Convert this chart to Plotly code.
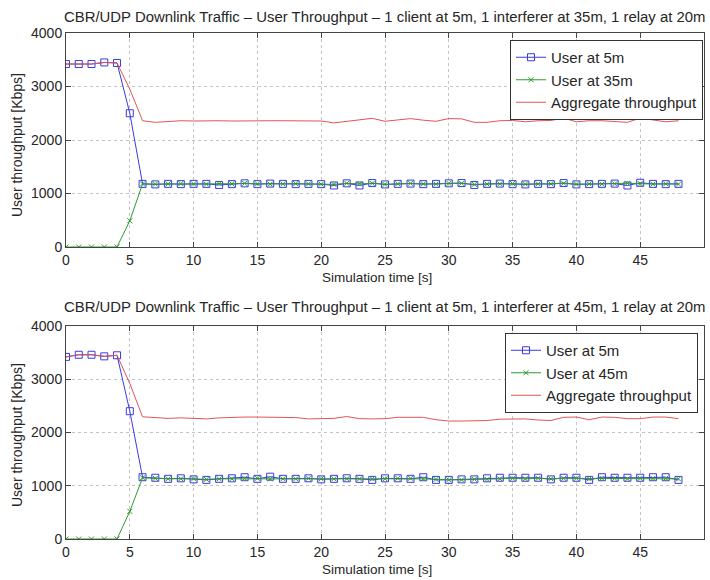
import plotly.graph_objects as go

time_s = list(range(49))

top_user5 = [3420, 3420, 3420, 3450, 3440, 2500, 1180, 1170, 1180, 1175,
             1180, 1180, 1160, 1175, 1190, 1175, 1185, 1180, 1175, 1180,
             1175, 1150, 1190, 1150, 1195, 1170, 1180, 1185, 1175, 1180,
             1190, 1195, 1160, 1180, 1185, 1175, 1170, 1180, 1175, 1195,
             1170, 1175, 1180, 1185, 1150, 1200, 1180, 1175, 1180]
top_user35 = [0, 0, 0, 0, 0, 490, 1180, 1175, 1180, 1185,
              1180, 1175, 1185, 1180, 1190, 1180, 1175, 1180, 1185, 1180,
              1175, 1170, 1190, 1180, 1190, 1170, 1180, 1190, 1180, 1175,
              1190, 1190, 1170, 1175, 1180, 1185, 1175, 1180, 1180, 1190,
              1175, 1180, 1175, 1180, 1190, 1185, 1175, 1180, 1175]
top_aggregate = [3420, 3420, 3420, 3450, 3440, 2950, 2360, 2330, 2345, 2360,
                 2355, 2360, 2360, 2355, 2360, 2360, 2360, 2360, 2360, 2360,
                 2355, 2320, 2350, 2370, 2405, 2350, 2375, 2400, 2370, 2350,
                 2400, 2395, 2330, 2330, 2360, 2365, 2340, 2360, 2365, 2410,
                 2340, 2360, 2360, 2345, 2330, 2410, 2370, 2340, 2360]

bot_user5 = [3420, 3460, 3460, 3430, 3450, 2400, 1160, 1150, 1130, 1140,
             1120, 1110, 1130, 1140, 1160, 1130, 1170, 1130, 1130, 1140,
             1120, 1130, 1140, 1130, 1110, 1140, 1140, 1130, 1160, 1110,
             1110, 1120, 1120, 1140, 1150, 1150, 1150, 1150, 1120, 1150,
             1150, 1110, 1160, 1150, 1150, 1150, 1160, 1160, 1110]
bot_user45 = [0, 0, 0, 0, 0, 520, 1150, 1140, 1130, 1130,
              1130, 1120, 1130, 1130, 1140, 1140, 1130, 1130, 1130, 1140,
              1130, 1130, 1130, 1130, 1130, 1130, 1140, 1140, 1130, 1120,
              1110, 1110, 1120, 1120, 1130, 1140, 1130, 1140, 1130, 1140,
              1140, 1130, 1140, 1140, 1130, 1140, 1140, 1140, 1130]
bot_aggregate = [3420, 3460, 3460, 3430, 3450, 2920, 2295, 2280, 2265, 2275,
                 2260, 2255, 2275, 2285, 2290, 2290, 2290, 2285, 2280, 2255,
                 2255, 2265, 2300, 2260, 2255, 2260, 2285, 2290, 2285, 2240,
                 2215, 2215, 2215, 2225, 2250, 2255, 2255, 2235, 2225, 2285,
                 2290, 2240, 2290, 2285, 2260, 2260, 2290, 2290, 2260]

titles = ["CBR/UDP Downlink Traffic \u2013 User Throughput \u2013 1 client at 5m, 1 interferer at 35m, 1 relay at 20m",
          "CBR/UDP Downlink Traffic \u2013 User Throughput \u2013 1 client at 5m, 1 interferer at 45m, 1 relay at 20m"]
x_ticks = [0, 5, 10, 15, 20, 25, 30, 35, 40, 45, 50]
y_ticks = [0, 1000, 2000, 3000, 4000]

BLUE = "#3a3ae2"
GREEN = "#2f9a2f"
RED = "#e05555"
TXT = "#262626"
FONT = "Liberation Sans, Arial, sans-serif"
W, H = 710.0, 580.0
ML, MR = 66, 6
PW = W - ML - MR

fig = go.Figure()

panels = [
    (top_user5, top_user35, top_aggregate, "User at 35m", "x", "y", "legend"),
    (bot_user5, bot_user45, bot_aggregate, "User at 45m", "x2", "y2", "legend2"),
]
for u5, uf, agg, far_name, xa, ya, lg in panels:
    fig.add_trace(go.Scatter(x=time_s, y=u5, name="User at 5m", mode="lines+markers",
                             line=dict(color=BLUE, width=1),
                             marker=dict(symbol="square-open", size=7, color=BLUE, line=dict(width=1)),
                             xaxis=xa, yaxis=ya, legend=lg))
    fig.add_trace(go.Scatter(x=time_s, y=uf, name=far_name, mode="lines+markers",
                             line=dict(color=GREEN, width=1),
                             marker=dict(symbol="x-thin-open", size=5, color=GREEN, line=dict(width=1, color=GREEN)),
                             xaxis=xa, yaxis=ya, legend=lg))
    fig.add_trace(go.Scatter(x=time_s, y=agg, name="Aggregate throughput", mode="lines",
                             line=dict(color=RED, width=1),
                             xaxis=xa, yaxis=ya, legend=lg))

def dom(top_px, bot_px):
    return [1 - bot_px / H, 1 - top_px / H]

axis_common = dict(showline=True, linecolor="#444", linewidth=1, mirror="ticks",
                   ticks="inside", ticklen=5, tickcolor="#444",
                   showgrid=True, gridcolor="#c4c4c4", griddash="dot", gridwidth=1,
                   zeroline=False, automargin=False,
                   tickfont=dict(family=FONT, size=14, color=TXT))

legend_common = dict(xanchor="right", yanchor="top",
                     bgcolor="white", bordercolor="#333", borderwidth=1,
                     font=dict(family=FONT, size=15, color=TXT), tracegroupgap=0)

fig.update_layout(
    width=W, height=H,
    margin=dict(l=ML, r=MR, t=0, b=0, autoexpand=False),
    paper_bgcolor="white", plot_bgcolor="white",
    font=dict(family=FONT, size=14, color=TXT),
    xaxis=dict(domain=[0, 1], range=[0, 50], tickvals=x_ticks, anchor="y", **axis_common),
    yaxis=dict(domain=dom(33, 247), range=[0, 4000], tickvals=y_ticks, anchor="x", **axis_common),
    xaxis2=dict(domain=[0, 1], range=[0, 50], tickvals=x_ticks, anchor="y2", **axis_common),
    yaxis2=dict(domain=dom(326, 539), range=[0, 4000], tickvals=y_ticks, anchor="x2", **axis_common),
    legend=dict(x=(703 - ML) / PW, y=1 - 40 / H, **legend_common),
    legend2=dict(x=(698 - ML) / PW, y=1 - 333 / H, **legend_common),
    showlegend=True,
)

annotations = []
for title, ytitle_px in [(titles[0], 17), (titles[1], 307)]:
    annotations.append(dict(text=title, x=(384 - ML) / PW, xref="paper", y=1 - ytitle_px / H, yref="paper",
                            xanchor="center", yanchor="middle", showarrow=False,
                            font=dict(family=FONT, size=14.9, color=TXT)))
for xt_px in [277, 569]:
    annotations.append(dict(text="Simulation time [s]", x=(377 - ML) / PW, xref="paper", y=1 - xt_px / H, yref="paper",
                            xanchor="center", yanchor="middle", showarrow=False,
                            font=dict(family=FONT, size=13.5, color=TXT)))
for center_px in [145, 435]:
    annotations.append(dict(text="User throughput [Kbps]", x=(17 - ML) / PW, xref="paper",
                            y=1 - center_px / H, yref="paper", textangle=-90,
                            xanchor="center", yanchor="middle", showarrow=False,
                            font=dict(family=FONT, size=14, color=TXT)))
fig.update_layout(annotations=annotations)

fig.write_html("out.html", config={"displayModeBar": False},
               post_script="document.body.style.margin='0px';document.body.style.overflow='hidden';")
